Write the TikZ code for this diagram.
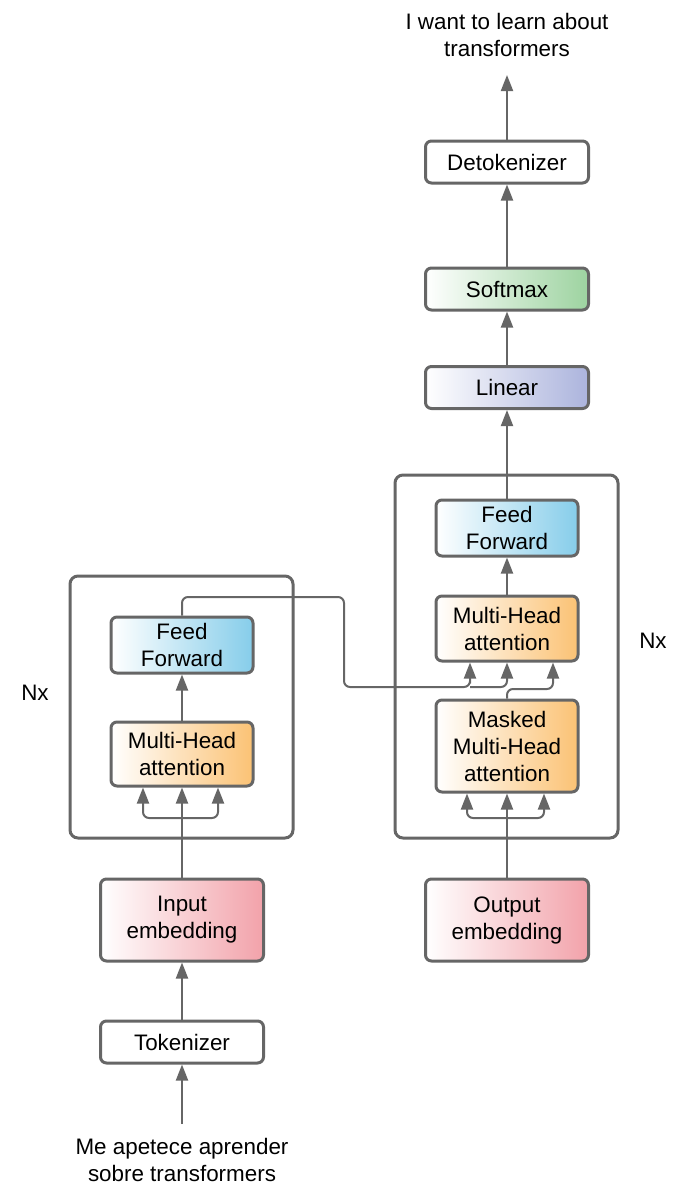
\documentclass[tikz,border=0pt]{standalone}
\usepackage{fontspec}
\setmainfont{Liberation Sans}
\usetikzlibrary{calc,arrows.meta}
\definecolor{edge}{HTML}{666666}
\definecolor{ffblue}{HTML}{86CDEA}
\definecolor{attorange}{HTML}{FBC274}
\definecolor{embpink}{HTML}{F2A2AA}
\definecolor{smgreen}{HTML}{9DD3A0}
\definecolor{linblue}{HTML}{ACB4DD}
\begin{document}
\begin{tikzpicture}[x=0.5pt,y=-0.5pt,
  box/.style={draw=edge,line width=1.5pt,rounded corners=3pt,align=center,inner sep=0pt,
    font=\fontsize{11.2}{13.5}\selectfont,minimum width=71pt,minimum height=21pt},
  wide/.style={box,minimum width=81.5pt},
  frame/.style={draw=edge,line width=1.5pt,rounded corners=4pt},
  line/.style={draw=edge,line width=1pt},
  link/.style={line,-{Triangle[width=6pt,length=8pt]}},
  txt/.style={align=center,font=\fontsize{11.2}{13.5}\selectfont}]
 	\useasboundingbox (0,0) rectangle (689,1200);
 	% encoder side
 	\node[txt] (source) at (182,1160) {Me apetece aprender\\sobre transformers};
 	\node[wide] (tok) at (182,1042) {Tokenizer};
 	\node[wide,minimum height=41pt,left color=white,right color=embpink] (inemb) at (182,920) {Input\\embedding};
 	\draw[frame] (70,576) rectangle (293,838);
 	\node[txt] (nxleft) at (35,693) {Nx};
 	\node[box,minimum height=32pt,left color=white,right color=attorange] (encmha) at (182,754) {Multi-Head\\attention};
 	\node[box,minimum height=28pt,left color=white,right color=ffblue] (encff) at (182,645) {Feed\\Forward};
 	% decoder side
 	\node[wide,minimum height=41pt,left color=white,right color=embpink] (outemb) at (507,920) {Output\\embedding};
 	\draw[frame] (395,475) rectangle (618,838);
 	\node[txt] (nxright) at (653,641) {Nx};
 	\node[box,minimum height=46pt,left color=white,right color=attorange] (masked) at (507,746) {Masked\\Multi-Head\\attention};
 	\node[box,minimum height=32.5pt,left color=white,right color=attorange] (decmha) at (507,628.5) {Multi-Head\\attention};
 	\node[box,minimum height=28pt,left color=white,right color=ffblue] (decff) at (507,528) {Feed\\Forward};
 	\node[wide,left color=white,right color=linblue] (linear) at (507,387.5) {Linear};
 	\node[wide,left color=white,right color=smgreen] (softmax) at (507,289) {Softmax};
 	\node[wide] (detok) at (507,162) {Detokenizer};
 	\node[txt] (target) at (507,35) {I want to learn about\\transformers};
 	% splits
 	\coordinate (intail) at (182,1124);
 	\coordinate (outtip) at (507,75);
 	\coordinate (encsplit) at (182,818);
 	\coordinate (decsplit) at (507,818);
 	\coordinate (enctop) at (344,597);
 	\coordinate (encmid) at (344,687);
 	\coordinate (fork) at (470,687);
 	\coordinate (maskout) at (507,689);
 	% connectors
 	\draw[link] (intail) -- (tok);
 	\draw[link] (tok) -- (inemb);
 	\draw[line] (inemb) -- (encsplit);
 	\draw[link] (encsplit) -- (encmha.south);
 	\draw[link,rounded corners=3pt] (encsplit) -| ($(encmha.south)+(-39,0)$);
 	\draw[link,rounded corners=3pt] (encsplit) -| ($(encmha.south)+(36,0)$);
 	\draw[link] (encmha) -- (encff);
 	\draw[line] (outemb) -- (decsplit);
 	\draw[link] (decsplit) -- (masked.south);
 	\draw[link,rounded corners=3pt] (decsplit) -| ($(masked.south)+(-40,0)$);
 	\draw[link,rounded corners=3pt] (decsplit) -| ($(masked.south)+(37,0)$);
 	\draw[link,rounded corners=3pt] (encff.north) |- (enctop) -- (encmid) -| (fork) -- ($(decmha.south)+(-37,0)$);
 	\draw[link,rounded corners=3pt] (fork) -| (decmha.south);
 	\draw[link,rounded corners=3pt] (masked.north) -- (maskout) -| ($(decmha.south)+(46,0)$);
 	\draw[link] (decmha) -- (decff);
 	\draw[link] (decff) -- (linear);
 	\draw[link] (linear) -- (softmax);
 	\draw[link] (softmax) -- (detok);
 	\draw[link] (detok) -- (outtip);
 \end{tikzpicture}
\end{document}
